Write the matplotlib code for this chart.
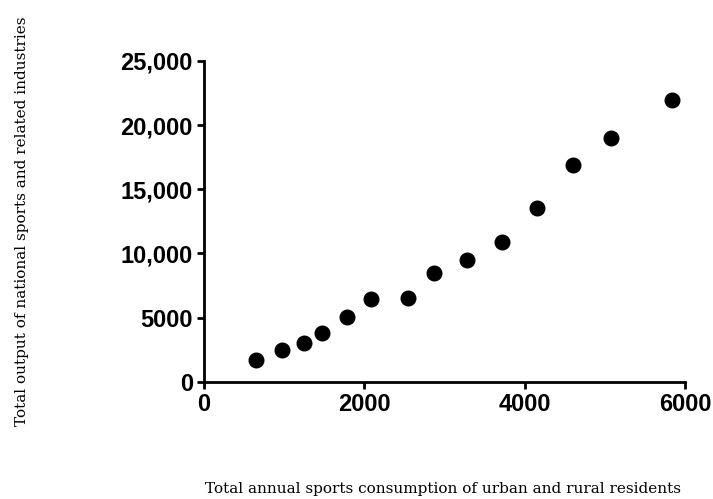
import matplotlib.pyplot as plt

# valores
consumo = [646, 977, 1251, 1468, 1780, 2083, 2541, 2873, 3285, 3713, 4158, 4599, 5077, 5834]
producao = [1690, 2470, 2990, 3820, 5070, 6450, 6550, 8500, 9510, 10890, 13560, 16920, 18970, 21960]

x_ticks = [0, 2000, 4000, 6000]
y_ticks = [0, 5000, 10000, 15000, 20000, 25000]
y_tick_labels = ["0", "5000", "10,000", "15,000", "20,000", "25,000"]

fig = plt.figure(figsize=(7.13, 4.99), dpi=100)
ax = fig.add_axes([0.286, 0.235, 0.675, 0.643])

ax.plot(consumo, producao, linestyle="none", marker="o", markersize=10.5, color="black")

ax.set_xlim(0, 6000)
ax.set_ylim(0, 25000)
ax.set_xticks(x_ticks)
ax.set_yticks(y_ticks)
ax.set_yticklabels(y_tick_labels)

for lado in ["top", "right"]:
    ax.spines[lado].set_visible(False)
for lado in ["left", "bottom"]:
    ax.spines[lado].set_linewidth(2)

ax.tick_params(axis="both", width=2, length=5, direction="out", pad=3)
for rotulo in ax.get_xticklabels() + ax.get_yticklabels():
    rotulo.set_fontfamily("Liberation Sans")
    rotulo.set_fontweight("bold")
    rotulo.set_fontsize(17)

fig.text(443 / 713, 1 - 489 / 499, "Total annual sports consumption of urban and rural residents",
         ha="center", va="center", fontsize=11, family="DejaVu Serif")
fig.text(22 / 713, 1 - 221 / 499, "Total output of national sports and related industries",
         ha="center", va="center", rotation=90, fontsize=11, family="DejaVu Serif")

fig.savefig("out.png", dpi=100)
